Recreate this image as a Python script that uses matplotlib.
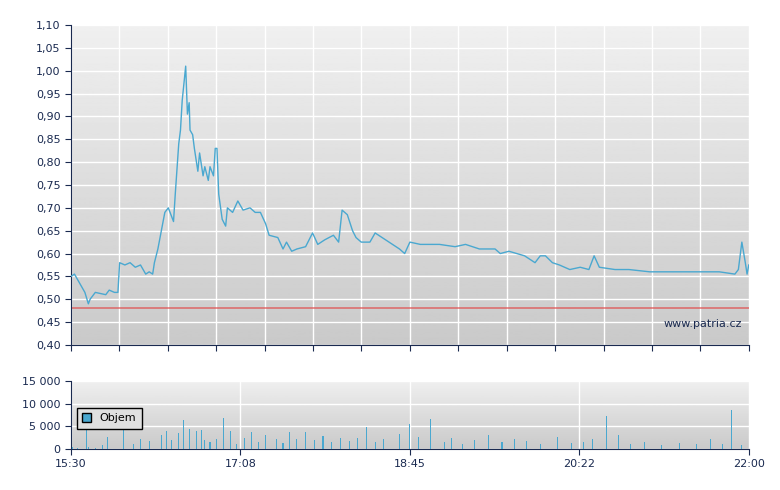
import numpy as np
import matplotlib.pyplot as plt
from matplotlib.ticker import FuncFormatter

# minutes after 15:30
price_t = [0, 2, 5, 8, 10, 11, 14, 20, 22, 25, 27, 28, 31, 34, 37, 40, 43, 45, 47, 48,
           50, 52, 54, 56, 59, 60, 62, 63, 64, 66, 67, 68, 68.5, 70, 71, 73, 74, 76, 77, 79,
           80, 82, 83, 84, 85, 87, 89, 90, 93, 96, 99, 103, 106, 109, 112, 114, 119, 122, 124, 127,
           130, 135, 137, 139, 142, 146, 151, 154, 156, 159, 162, 164, 167, 172, 175, 179, 183, 189, 192, 195,
           201, 212, 221, 227, 235, 244, 247, 252, 261, 267, 270, 273, 277, 281, 287, 293, 298, 301, 304, 313,
           321, 333, 344, 362, 373, 382, 384, 386, 388, 389, 390]
price = [0.55, 0.555, 0.535, 0.515, 0.49, 0.50, 0.515, 0.51, 0.52, 0.515, 0.515, 0.58, 0.575, 0.58, 0.57, 0.575, 0.555, 0.56, 0.555, 0.58,
         0.61, 0.65, 0.69, 0.70, 0.67, 0.73, 0.84, 0.87, 0.935, 1.01, 0.905, 0.93, 0.87, 0.86, 0.83, 0.78, 0.82, 0.77, 0.79, 0.76,
         0.79, 0.77, 0.83, 0.83, 0.73, 0.675, 0.66, 0.70, 0.69, 0.715, 0.695, 0.70, 0.69, 0.69, 0.665, 0.64, 0.635, 0.61, 0.625, 0.605,
         0.61, 0.615, 0.63, 0.645, 0.62, 0.63, 0.64, 0.625, 0.695, 0.685, 0.65, 0.635, 0.625, 0.625, 0.645, 0.635, 0.625, 0.61, 0.60, 0.625,
         0.62, 0.62, 0.615, 0.62, 0.61, 0.61, 0.60, 0.605, 0.595, 0.58, 0.595, 0.595, 0.58, 0.575, 0.565, 0.57, 0.565, 0.595, 0.57, 0.565,
         0.565, 0.56, 0.56, 0.56, 0.56, 0.555, 0.565, 0.625, 0.58, 0.555, 0.575]
prev_close = 0.48

vol_t = [1, 4, 9, 10, 14, 18, 21, 30, 36, 40, 45, 52, 55, 58, 62, 65, 68, 72, 75, 77, 80, 84, 88, 92, 95,
         100, 104, 108, 112, 118, 122, 126, 130, 135, 140, 145, 150, 155, 160, 165, 170, 175, 180, 189, 195,
         200, 207, 215, 219, 225, 232, 240, 248, 255, 262, 270, 280, 288, 295, 300, 308, 315, 322, 330, 340,
         350, 360, 368, 375, 380, 386]
vol = [400, 300, 6200, 500, 300, 900, 2600, 5000, 1000, 2200, 1800, 3000, 4000, 2000, 3500, 6400, 4300, 3900, 4200, 2000, 1500, 2300, 6800, 3900, 1200,
       2400, 3800, 1500, 3000, 2200, 1400, 3800, 2300, 3700, 2000, 2800, 1500, 2500, 1800, 2400, 4800, 1600, 2200, 3300, 5500,
       2600, 6500, 1500, 2500, 1200, 2000, 3000, 1500, 2200, 1800, 1200, 2600, 1400, 1600, 2200, 7200, 3000, 1200, 1600, 900,
       1400, 1000, 2200, 1200, 8500, 900]

def grad(ax):
    g = np.linspace(0.94, 0.78, 256).reshape(-1, 1)
    ax.imshow(g, aspect='auto', cmap='gray', vmin=0, vmax=1, extent=[0, 390, 0, 1],
              transform=ax.transAxes, zorder=0)

navy = '#1a2a50'
fig = plt.figure(figsize=(7.8, 4.9), dpi=100)
ax = fig.add_axes([0.091, 0.296, 0.869, 0.653])
ax2 = fig.add_axes([0.091, 0.0837, 0.869, 0.139])

for a in (ax, ax2):
    a.imshow(np.linspace(0.94, 0.79, 256).reshape(-1, 1), aspect='auto', cmap='gray',
             vmin=0, vmax=1, extent=[0, 1, 0, 1], transform=a.transAxes, zorder=0)
    a.set_xlim(0, 390)
    for s in ('top', 'right'):
        a.spines[s].set_visible(False)
    for s in ('left', 'bottom'):
        a.spines[s].set_color(navy)
    a.tick_params(colors=navy, labelsize=8, length=4)
    a.grid(color='white', lw=1)
    a.set_axisbelow(True)

comma = FuncFormatter(lambda v, p: f'{v:.2f}'.replace('.', ','))
ax.plot(price_t, price, color='#4aa8d0', lw=1, zorder=3)
ax.axhline(prev_close, color='#e05050', lw=1.3, alpha=0.7, zorder=2)
ax.set_ylim(0.40, 1.10)
ax.set_yticks(np.arange(0.40, 1.101, 0.05))
ax.yaxis.set_major_formatter(comma)
ax.set_xticks(np.linspace(0, 390, 15))
ax.set_xticklabels([])
ax.text(0.99, 0.05, 'www.patria.cz', transform=ax.transAxes, ha='right', va='bottom',
        fontsize=8, color=navy, zorder=4)

ax2.bar(vol_t, vol, width=0.6, color='#4aa8d0', zorder=3, label='Objem')
ax2.set_ylim(0, 15000)
ax2.set_yticks([0, 5000, 10000, 15000])
ax2.yaxis.set_major_formatter(FuncFormatter(lambda v, p: f'{int(v):,}'.replace(',', ' ')))
ax2.set_xticks([0, 97.5, 195, 292.5, 390])
ax2.set_xticklabels(['15:30', '17:08', '18:45', '20:22', '22:00'])
leg = ax2.legend(loc='center left', bbox_to_anchor=(0.0, 0.45), fontsize=8, frameon=True,
                 fancybox=False, handlelength=0.8, handleheight=0.8, borderpad=0.5)
leg.get_frame().set_edgecolor('black')
leg.get_frame().set_facecolor('#e0e0e0')
leg.get_frame().set_alpha(1)
for h in leg.legend_handles:
    h.set_edgecolor('black')
leg.set_zorder(5)

fig.savefig('out.png', dpi=100)
